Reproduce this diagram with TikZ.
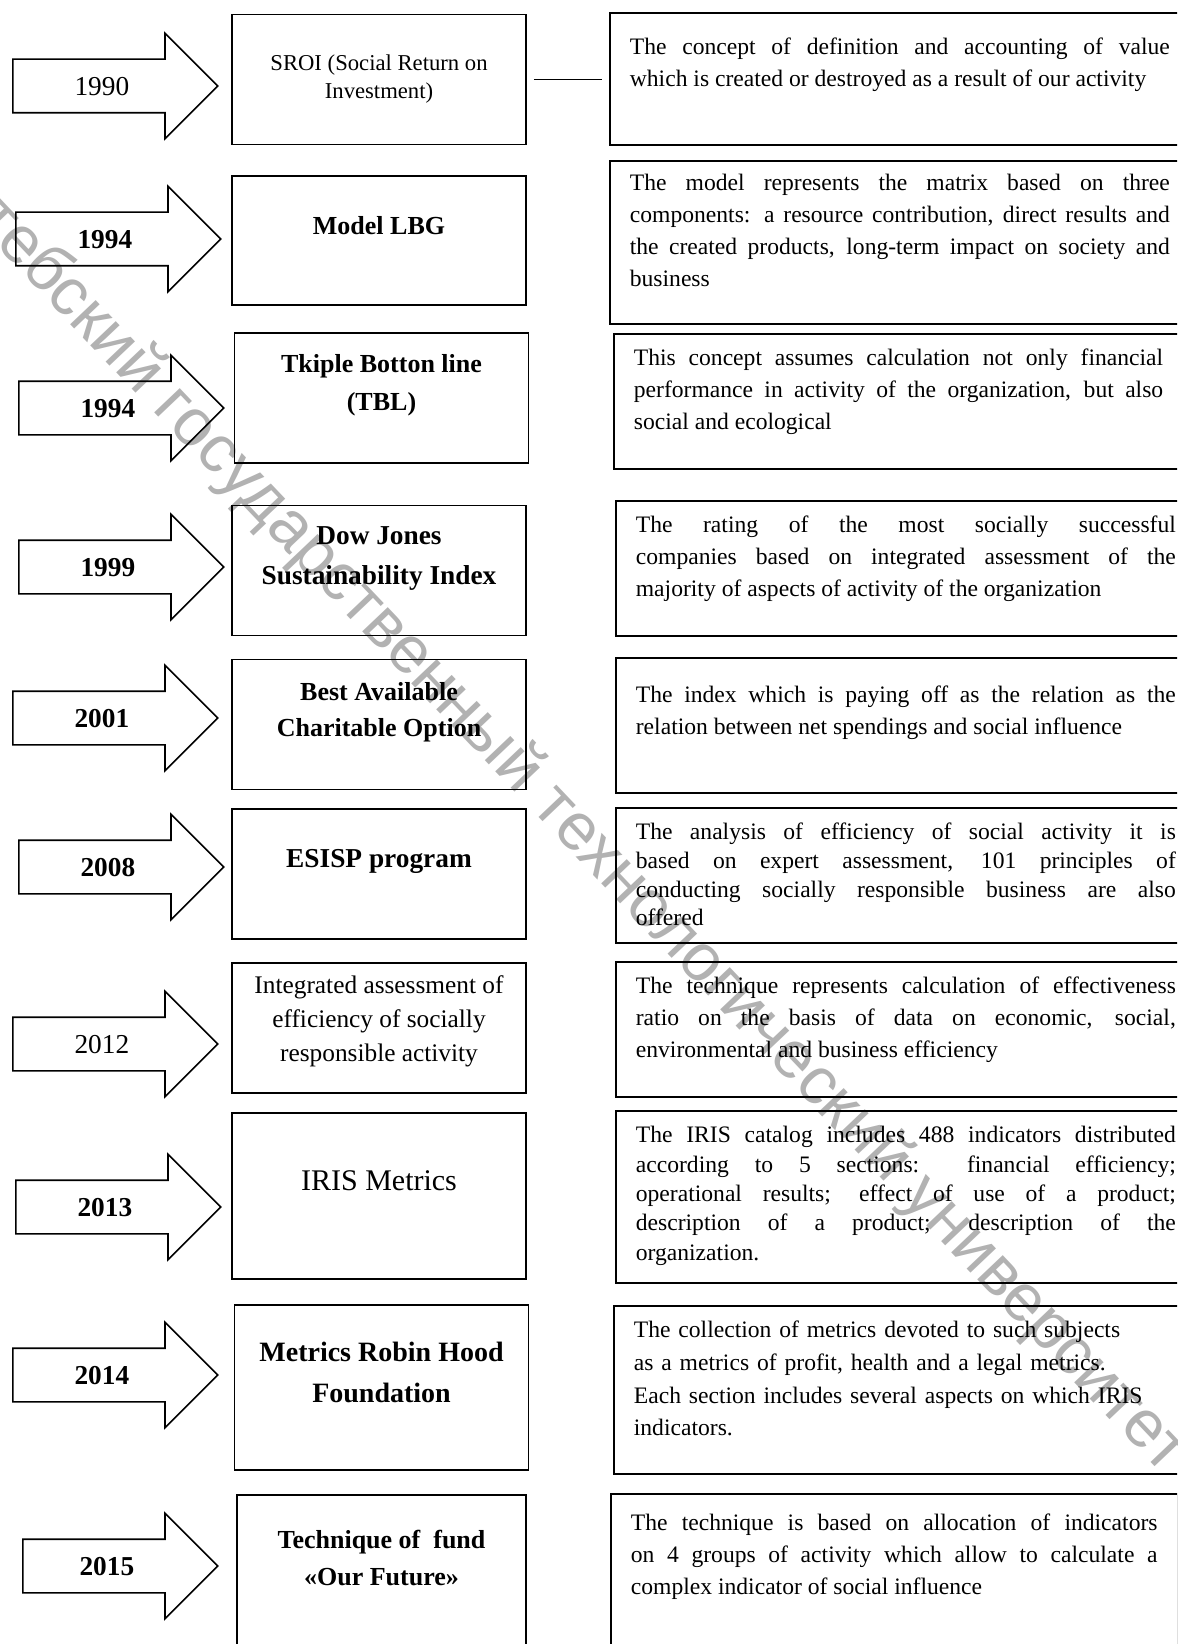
\documentclass[tikz,border=0pt]{standalone}
\usepackage{fontspec}
\setmainfont{Liberation Serif}
\newfontfamily\wmfont{Liberation Sans}
\usetikzlibrary{shapes.arrows}

\tikzset{
  yeararrow/.style={single arrow, draw, line width=1.2pt, anchor=tail,
    minimum height=153.75pt, minimum width=78pt,
    single arrow head extend=19.5pt, inner xsep=2pt, inner ysep=12.5pt,
    text height=14pt, text depth=0pt,
    font=\bfseries\fontsize{20.5}{24}\selectfont},
  method/.style={draw, line width=1.3pt, minimum width=220.5pt, minimum height=97.5pt,
    align=center, font=\bfseries\fontsize{19.5}{28.5}\selectfont,
    execute at end node={\rule[-#1]{0pt}{#1}}},
  method/.default=23pt,
  desc/.style={draw, line width=1.3pt, anchor=north west, inner xsep=15pt, inner ysep=0pt,
    text width=405pt, align=justify, font=\fontsize{17.7}{24}\selectfont,
    text height=24pt, text depth=#1},
  link/.style={line width=1pt, shorten <=5.25pt, shorten >=5.25pt},
  watermark/.style={font=\wmfont\fontsize{50}{60}\selectfont, text=black,
    text opacity=0.3, inner sep=0pt, anchor=west, rotate=-46.5}
}

\begin{document}
\begin{tikzpicture}[x=0.75pt, y=-0.75pt]
\useasboundingbox (0,0) rectangle (1177,1644);
\clip (0,0) rectangle (1177,1644);

% years
\node[yeararrow, font=\fontsize{20.5}{24}\selectfont] (y1) at (12,86) {1990};
\node[yeararrow] (y2) at (15,239) {1994};
\node[yeararrow] (y3) at (18,408) {1994};
\node[yeararrow] (y4) at (18,567) {1999};
\node[yeararrow] (y5) at (12,718) {2001};
\node[yeararrow] (y6) at (18,867) {2008};
\node[yeararrow, font=\fontsize{20.5}{24}\selectfont] (y7) at (12,1044) {2012};
\node[yeararrow] (y8) at (15,1207) {2013};
\node[yeararrow] (y9) at (12,1375) {2014};
\node[yeararrow, minimum height=146.25pt] (y10) at (22,1566) {2015};

% methods
\node[method=0pt, font=\fontsize{17}{21}\selectfont] (m1) at (379,79.5) {SROI (Social Return on\\Investment)};
\node[method, minimum height=96.75pt] (m2) at (379,240.5) {Model LBG};
\node[method] (m3) at (381.5,398) {Tkiple Botton line\\(TBL)};
\node[method, font=\bfseries\fontsize{20.5}{30}\selectfont] (m4) at (379,570.5) {Dow Jones\\Sustainability Index};
\node[method, font=\bfseries\fontsize{19.5}{27}\selectfont] (m5) at (379,724.5) {Best Available\\Charitable Option};
\node[method, font=\bfseries\fontsize{20.5}{27}\selectfont] (m6) at (379,874) {ESISP program};
\node[method=14pt, font=\fontsize{19}{25.5}\selectfont] (m7) at (379,1028) {Integrated assessment of\\efficiency of socially\\responsible activity};
\node[method, minimum height=124.5pt, font=\fontsize{22.5}{27}\selectfont] (m8) at (379,1196) {IRIS Metrics};
\node[method, minimum height=123.75pt, font=\bfseries\fontsize{21}{30.75}\selectfont] (m9) at (381.5,1387.5) {Metrics Robin Hood\\Foundation};
\node[method=30pt, minimum height=123.75pt, minimum width=216.75pt, font=\bfseries\fontsize{19.5}{27.75}\selectfont] (m10) at (381.5,1577.5) {Technique of\ \ fund\\«Our Future»};

% descriptions
\node[desc=67.5pt, text height=31.5pt] (d1) at (609,12) {The concept of definition and accounting of value\linebreak which is created or destroyed as a result of our activity};
\node[desc=99.75pt, text height=22.5pt] (d2) at (609,160) {The model represents the matrix based on three\linebreak components: a resource contribution, direct results and\linebreak the created products, long-term impact on society and\linebreak business};
\node[desc=77.25pt, text width=397pt] (d3) at (613,333) {This concept assumes calculation not only financial\linebreak performance in activity of the organization, but also\linebreak social and ecological};
\node[desc=77.25pt] (d4) at (615,500) {The rating of the most socially successful\linebreak companies based on integrated assessment of the\linebreak majority of aspects of activity of the organization};
\node[desc=67.5pt, text height=33.75pt] (d5) at (615,657) {The index which is paying off as the relation as the\linebreak relation between net spendings and social influence};
\node[desc=77.25pt, font=\fontsize{17.7}{21.5}\selectfont] (d6) at (615,807) {The analysis of efficiency of social activity it is\linebreak based on expert assessment, 101 principles of\linebreak conducting socially responsible business are also\linebreak offered};
\node[desc=77.25pt] (d7) at (615,961) {The technique represents calculation of effectiveness\linebreak ratio on the basis of data on economic, social,\linebreak environmental and business efficiency};
\node[desc=105pt, font=\fontsize{17.7}{22}\selectfont] (d8) at (615,1110) {The IRIS catalog includes 488 indicators distributed\linebreak according to 5 sections: financial efficiency;\linebreak operational results; effect of use of a product;\linebreak description of a product; description of the\linebreak organization.};
\node[desc=102pt, align=left, font=\fontsize{17.7}{24.5}\selectfont] (d9) at (613,1305) {The collection of metrics devoted to such subjects\\as a metrics of profit, health and a legal metrics.\\Each section includes several aspects on which IRIS\\indicators.};
\node[desc=99.75pt, text height=27.75pt, text width=395pt] (d10) at (610,1493) {The technique is based on allocation of indicators\linebreak on 4 groups of activity which allow to calculate a\linebreak complex indicator of social influence};

\draw[link] (m1.east) -- (d1.west |- m1.east);

% watermark
\node[watermark] (wm) at (-70,150) {Витебский государственный технологический университет};
\end{tikzpicture}
\end{document}
